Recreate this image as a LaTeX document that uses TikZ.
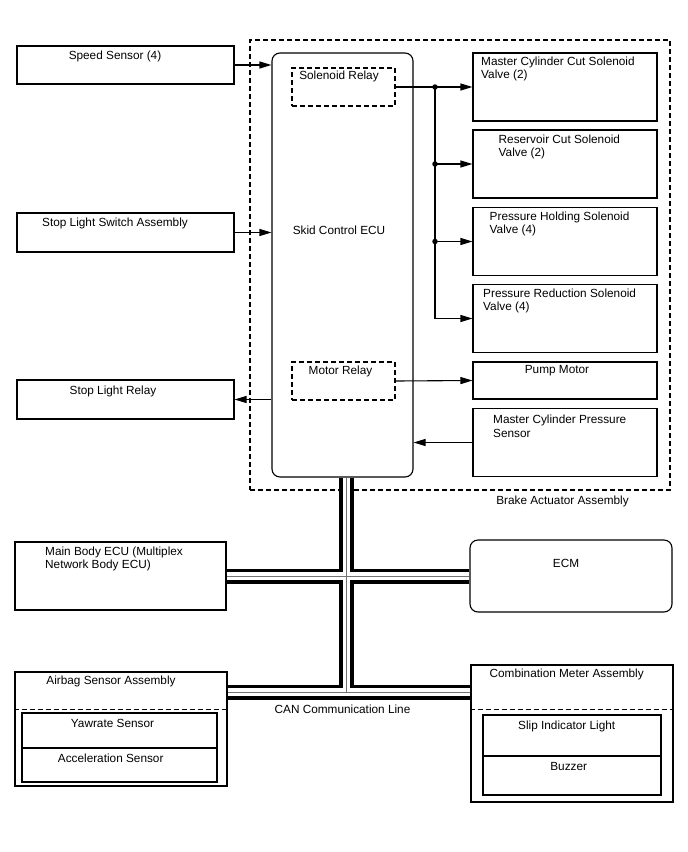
\documentclass[tikz,border=0pt]{standalone}
\usepackage{fontspec}
\setmainfont{Liberation Sans}
\usetikzlibrary{arrows.meta}
\begin{document}
\begin{tikzpicture}[x=1pt,y=-1pt,
  every node/.style={font=\fontsize{11.8}{13.6}\selectfont},
  box/.style={draw, line width=1.1pt, inner sep=0pt},
  rbox/.style={box, rounded corners=8pt},
  dbox/.style={draw, line width=1.1pt, dash pattern=on 5pt off 3pt, inner sep=0pt},
  dline/.style={line width=1.1pt, dash pattern=on 5pt off 3pt},
  lbl/.style={inner sep=0pt, align=center},
  lbll/.style={inner sep=0pt, align=left, anchor=west},
  arr/.style={line width=1.1pt, -{Triangle[length=12pt,width=7pt]}},
  ln/.style={line width=1.1pt},
  dot/.style={circle, fill, inner sep=0pt, minimum size=5.5pt},
]
\useasboundingbox (0,0) rectangle (688,852);

% Brake actuator dashed frame
\node[dbox, minimum width=420pt, minimum height=450pt] (brake) at (460,265) {};
\node[lbl] (braket) at (562.5,501.5) {Brake Actuator Assembly};

% Left boxes
\node[box, minimum width=217pt, minimum height=38pt] (speed) at (125.5,65) {};
\node[lbl] (speedt) at (115,56) {Speed Sensor (4)};
\node[box, minimum width=217pt, minimum height=39pt] (stopsw) at (125.5,232.5) {};
\node[lbl] (stopswt) at (115,223.3) {Stop Light Switch Assembly};
\node[box, minimum width=217pt, minimum height=39pt] (stoprel) at (125.5,399.5) {};
\node[lbl] (stoprelt) at (113,391.5) {Stop Light Relay};

% Skid control ECU
\node[rbox, minimum width=141pt, minimum height=424pt] (ecu) at (342.5,265) {};
\node[lbl] (ecut) at (339,230) {Skid Control ECU};
\node[dbox, minimum width=103pt, minimum height=38pt] (solrel) at (343.5,87) {};
\node[lbl] (solrelt) at (339,76.5) {Solenoid Relay};
\node[dbox, minimum width=103pt, minimum height=38pt] (motrel) at (343.5,381) {};
\node[lbl] (motrelt) at (340.5,371) {Motor Relay};

% Right boxes
\node[box, minimum width=184pt, minimum height=68pt] (v1) at (565,87) {};
\node[lbll] (v1t) at (481,69) {Master Cylinder Cut Solenoid\\Valve (2)};
\node[box, minimum width=184pt, minimum height=68pt] (v2) at (565,164) {};
\node[lbll] (v2t) at (498.5,147) {Reservoir Cut Solenoid\\Valve (2)};
\node[box, minimum width=184pt, minimum height=68pt] (v3) at (565,241.5) {};
\node[lbll] (v3t) at (489.5,224) {Pressure Holding Solenoid\\Valve (4)};
\node[box, minimum width=184pt, minimum height=68pt] (v4) at (565,318.5) {};
\node[lbll] (v4t) at (483,301) {Pressure Reduction Solenoid\\Valve (4)};
\node[box, minimum width=184pt, minimum height=37pt] (pump) at (565,380.5) {};
\node[lbl] (pumpt) at (557,371) {Pump Motor};
\node[box, minimum width=184pt, minimum height=68pt] (mcps) at (565,442.5) {};
\node[lbll] (mcpst) at (493,426) {Master Cylinder Pressure\\Sensor};

% Connectors in brake actuator area
\draw[arr] (speed.east) -- (speed.east -| ecu.west);
\draw[arr] (stopsw.east) -- (stopsw.east -| ecu.west);
\draw[arr] (stoprel.east -| ecu.west) -- (stoprel.east);
\draw[arr] (mcps.west) -- (mcps.west -| ecu.east);
\draw[arr] (motrel.east) -- (pump.west);

\coordinate (jx) at (435,0);
\draw[arr] (solrel.east) -- (v1.west);
\draw[arr] (solrel.east -| jx) |- (v4.west);
\draw[arr] (v2.west -| jx) -- (v2.west);
\draw[arr] (v3.west -| jx) -- (v3.west);
\node[dot] (d1) at (solrel.east -| jx) {};
\node[dot] (d2) at (v2.west -| jx) {};
\node[dot] (d3) at (v3.west -| jx) {};

% Bottom boxes
\node[box, minimum width=211pt, minimum height=68pt] (mainbody) at (120.5,576) {};
\node[lbll] (mainbodyt) at (45,559) {Main Body ECU (Multiplex\\Network Body ECU)};
\node[rbox, minimum width=202pt, minimum height=72pt] (ecm) at (571,576) {};
\node[lbl] (ecmt) at (566,563) {ECM};

\node[box, minimum width=212pt, minimum height=114pt] (airbag) at (121,729) {};
\node[lbl] (airbagt) at (111,681.5) {Airbag Sensor Assembly};
\coordinate (sepa) at (0,709.3);
\draw[dline] (airbag.west |- sepa) -- (airbag.east |- sepa);
\node[box, minimum width=195pt, minimum height=35pt] (yaw) at (119.5,730.5) {};
\node[lbl] (yawt) at (112.5,723.3) {Yawrate Sensor};
\node[box, minimum width=195pt, minimum height=34pt] (acc) at (119.5,765) {};
\node[lbl] (acct) at (110.7,758.3) {Acceleration Sensor};

\node[box, minimum width=202pt, minimum height=137pt] (comb) at (572,733.5) {};
\node[lbl] (combt) at (566.7,674) {Combination Meter Assembly};
\draw[dline] (comb.west |- sepa) -- (comb.east |- sepa);
\node[box, minimum width=178pt, minimum height=41pt] (slip) at (572,735.5) {};
\node[lbl] (slipt) at (566.7,726) {Slip Indicator Light};
\node[box, minimum width=178pt, minimum height=39pt] (buzz) at (572,775.5) {};
\node[lbl] (buzzt) at (568.7,766.7) {Buzzer};

% CAN bus
\coordinate (bx) at (346.5,0);
\coordinate (bmid) at (0,576);
\coordinate (blow) at (0,692);
\foreach \w/\c in {15pt/black, 7.5pt/white, 0.9pt/black!55} {
  \draw[line width=\w, draw=\c] (ecu.south -| bx) -- (bx |- blow)
    (mainbody.east |- bmid) -- (ecm.west |- bmid)
    (airbag.east |- blow) -- (comb.west |- blow);
}
\node[lbl] (cant) at (342.5,709.3) {CAN Communication Line};
\end{tikzpicture}
\end{document}
